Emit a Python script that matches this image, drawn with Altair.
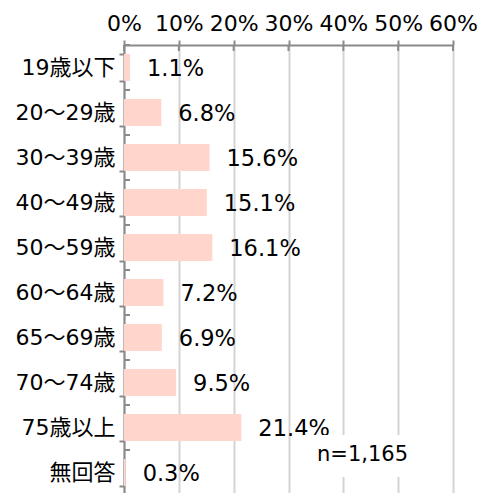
import altair as alt
import pandas as pd

categories = ["19歳以下", "20～29歳", "30～39歳", "40～49歳", "50～59歳",
              "60～64歳", "65～69歳", "70～74歳", "75歳以上", "無回答"]
values = [1.1, 6.8, 15.6, 15.1, 16.1, 7.2, 6.9, 9.5, 21.4, 0.3]
x_ticks = [0, 10, 20, 30, 40, 50, 60]
note = "n=1,165"

FONT = "DejaVu Sans, Noto Sans CJK JP"
AXIS_GRAY = "#8a8a8a"

df = pd.DataFrame({"cat": categories, "v": values})
tick_df = pd.DataFrame({"t": x_ticks})

xscale = alt.Scale(domain=[0, 60], nice=False)
yscale = alt.Scale(domain=categories, paddingInner=0.4, paddingOuter=0.2)
yscale_steps = alt.Scale(domain=categories, paddingInner=0, paddingOuter=0)

x_axis = alt.Axis(orient="top", values=x_ticks, labelExpr="datum.value + '%'",
                  title=None, grid=True, gridColor="#d4d4d4", gridWidth=2,
                  domainColor=AXIS_GRAY, domainWidth=2, tickColor=AXIS_GRAY,
                  tickWidth=2, tickSize=5, labelFont=FONT, labelFontSize=22,
                  labelColor="#000000", labelPadding=5, labelOverlap=False,
                  labelFlush=False)
y_axis = alt.Axis(title=None, tickBand="extent", domainColor=AXIS_GRAY,
                  domainWidth=2, tickColor=AXIS_GRAY, tickWidth=2, tickSize=5,
                  labelFont=FONT, labelFontSize=22, labelColor="#000000",
                  labelPadding=4, grid=False, labelOverlap=False)

bars = alt.Chart(df).mark_bar(color="#FFD5CC").encode(
    x=alt.X("v:Q", scale=xscale, axis=x_axis),
    y=alt.Y("cat:N", sort=categories, scale=yscale, axis=y_axis),
)

labels = alt.Chart(df).transform_calculate(
    lab="format(datum.v, '.1f') + '%'"
).mark_text(align="left", baseline="middle", dx=17, dy=1, font=FONT,
            fontSize=22.5, color="#000000").encode(
    x=alt.X("v:Q", scale=xscale),
    y=alt.Y("cat:N", sort=categories, scale=yscale, axis=None),
    text="lab:N",
)

x_in_ticks = alt.Chart(tick_df).mark_rule(color=AXIS_GRAY, strokeWidth=2).encode(
    x=alt.X("t:Q", scale=xscale),
    y=alt.value(0),
    y2=alt.value(6),
)

y_in_ticks = alt.Chart(df).mark_rule(color=AXIS_GRAY, strokeWidth=2).encode(
    y=alt.Y("cat:N", sort=categories, scale=yscale_steps, bandPosition=0, axis=None),
    x=alt.value(0),
    x2=alt.value(6),
)

box = alt.Chart(pd.DataFrame({"n": [note]})).mark_rect(color="white").encode(
    x=alt.datum(32.5),
    x2=alt.datum(53.5),
    y=alt.value(390),
    y2=alt.value(432),
)

note_text = alt.Chart(pd.DataFrame({"n": [note]})).mark_text(
    align="center", baseline="middle", font=FONT, fontSize=21, color="#000000"
).encode(
    x=alt.datum(43.5),
    y=alt.value(410),
    text="n:N",
)

chart = alt.layer(bars, labels, x_in_ticks, y_in_ticks, box, note_text).resolve_scale(
    y="independent"
).properties(
    width=329, height=450,
    autosize=alt.AutoSizeParams(type="none"),
    padding={"left": 116, "top": 37, "right": 25, "bottom": 0},
).configure_view(stroke=None).configure(background="white")

chart.save("out.html", embed_options={"renderer": "svg", "actions": False})
